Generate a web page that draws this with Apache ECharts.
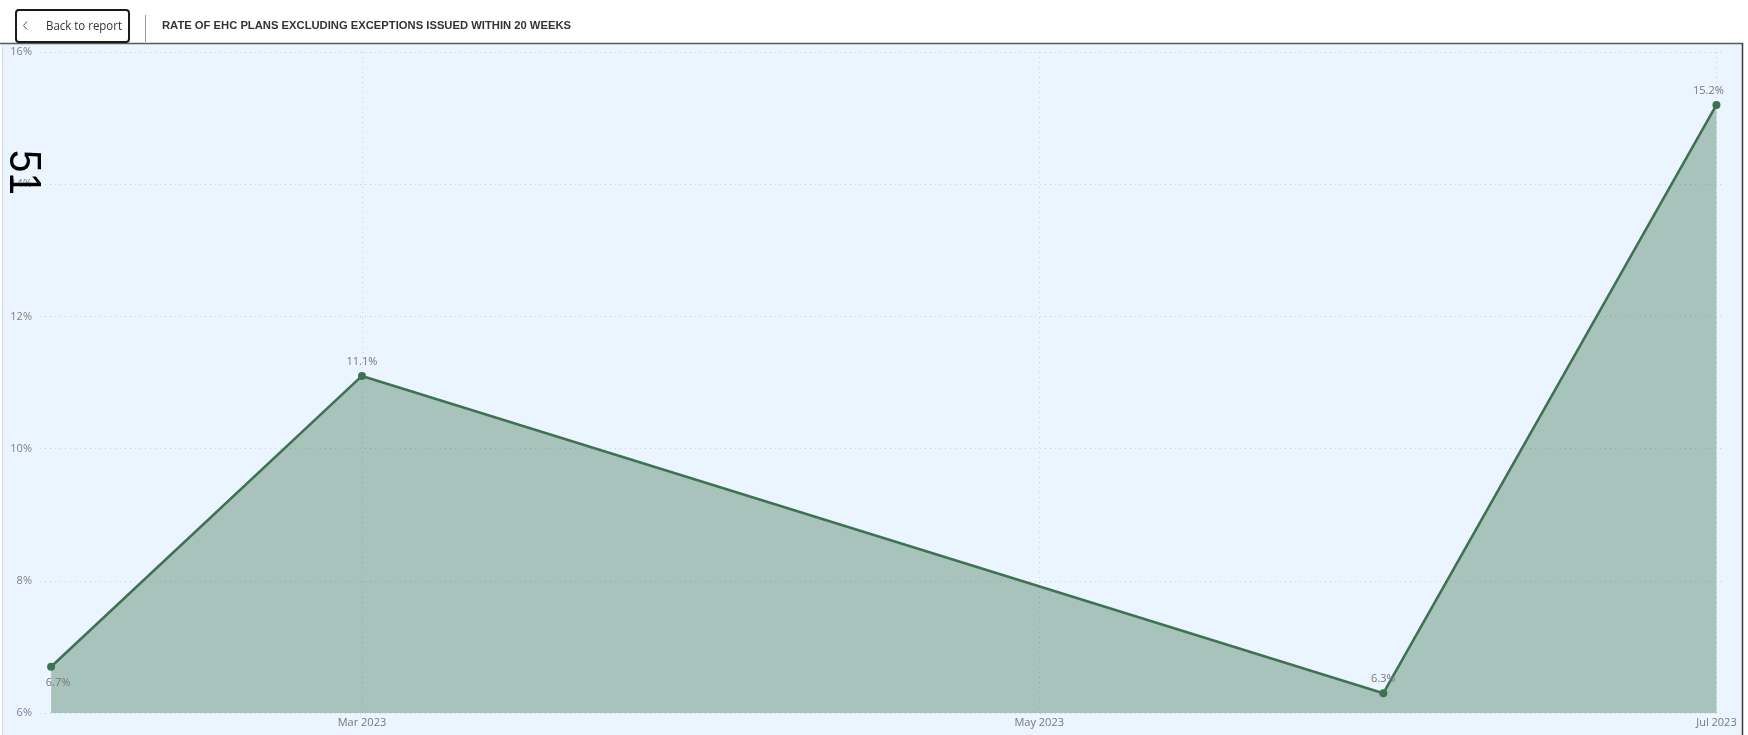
<!DOCTYPE html>
<html>
<head>
<meta charset="utf-8">
<script src="https://cdn.jsdelivr.net/npm/echarts@6/dist/echarts.min.js"></script>
<style>
html,body{margin:0;padding:0;background:#fff;}
#chart{width:1748px;height:735px;}
</style>
</head>
<body>
<div id="chart"></div>
<script>
// ---- data ----
const months = ['2023-02-01', '2023-03-01', '2023-06-01', '2023-07-01'];
const rates = [6.7, 11.1, 6.3, 15.2];
const xTickDates = ['2023-03-01', '2023-05-01', '2023-07-01'];
const yTicks = [6, 8, 10, 12, 14, 16];
const titleText = 'RATE OF EHC PLANS EXCLUDING EXCEPTIONS ISSUED WITHIN 20 WEEKS';
const backText = 'Back to report';
const bigText = '51';

const t = s => echarts.time.parse(s).getTime();
const DAY = 86400000;
const lineColor = '#3E7350';

// fit a text to a target width (horizontal scale factor)
const mctx = document.createElement('canvas').getContext('2d');
function fitScale(text, font, target) {
  mctx.font = font;
  const w = mctx.measureText(text).width;
  return w > 0 ? target / w : 1;
}
const titleFont = 'bold 10.5px "Liberation Sans", sans-serif';
const backFont = '12px "Open Sans", sans-serif';
const titleScale = fitScale(titleText, titleFont, 409);
const backScale = fitScale(backText, backFont, 76);

const chart = echarts.init(document.getElementById('chart'), null, {renderer: 'canvas'});

const seriesData = months.map((m, i) => {
  const last = i === months.length - 1;
  return {
    value: [t(m), rates[i]],
    label: {
      position: i === 0 ? 'bottom' : 'top',
      distance: i === 0 ? 7 : 5,
      offset: i === 0 ? [7, 0] : (last ? [-8, 0] : [0, 0])
    }
  };
});

const option = {
  animation: false,
  backgroundColor: '#ffffff',
  grid: {left: 40, right: 26, top: 52, bottom: 22, containLabel: false},
  graphic: [
    // panel background
    {type: 'rect', z: -10, silent: true, shape: {x: 2, y: 43, width: 1741, height: 692}, style: {fill: '#EBF5FF'}},
    {type: 'line', z: 50, silent: true, shape: {x1: 0, y1: 43.5, x2: 1743, y2: 43.5}, style: {stroke: '#5a5a5a', lineWidth: 1.5}},
    {type: 'line', z: 50, silent: true, shape: {x1: 1742.5, y1: 43, x2: 1742.5, y2: 735}, style: {stroke: '#3c3c3c', lineWidth: 1.5}},
    {type: 'line', z: 50, silent: true, shape: {x1: 2.5, y1: 44, x2: 2.5, y2: 735}, style: {stroke: '#cfd9e3', lineWidth: 1}},
    // back button
    {type: 'rect', z: 50, silent: true, shape: {x: 16, y: 10, width: 113, height: 32, r: 3}, style: {fill: '#fff', stroke: '#1a1a1a', lineWidth: 2}},
    {type: 'polyline', z: 51, silent: true, shape: {points: [[27, 21.5], [23.5, 25.5], [27, 29.5]]}, style: {stroke: '#555', lineWidth: 1, fill: null}},
    {type: 'text', z: 51, silent: true, x: 46, y: 26.5, scaleX: backScale,
      style: {text: backText, fill: '#333', font: backFont, textVerticalAlign: 'middle', textBaseline: 'middle'}},
    {type: 'line', z: 50, silent: true, shape: {x1: 145.5, y1: 15, x2: 145.5, y2: 42}, style: {stroke: '#9a9a9a', lineWidth: 1}},
    {type: 'text', z: 51, silent: true, x: 162, y: 26, scaleX: titleScale,
      style: {text: titleText, fill: '#333', font: titleFont, textVerticalAlign: 'middle', textBaseline: 'middle'}},
    // rotated big number
    {type: 'text', z: 60, silent: true, x: 44, y: 150, rotation: -Math.PI / 2, scaleX: 0.92, scaleY: 1,
      style: {text: bigText, fill: '#000', font: '44px "Liberation Sans", sans-serif', textBaseline: 'top', textAlign: 'left'}}
  ],
  xAxis: {
    type: 'time',
    min: t('2023-02-01') - DAY,
    max: t('2023-07-01') + DAY / 2,
    axisLine: {show: false},
    axisTick: {show: false, customValues: xTickDates.map(t)},
    axisLabel: {
      customValues: xTickDates.map(t),
      formatter: '{MMM} {yyyy}',
      color: '#777',
      fontSize: 11,
      fontFamily: '"Open Sans", sans-serif',
      margin: 4,
      hideOverlap: false,
      showMinLabel: true,
      showMaxLabel: true
    },
    splitLine: {show: true, lineStyle: {color: '#c9cfd6', type: [1, 4], width: 1}}
  },
  yAxis: {
    type: 'value',
    min: yTicks[0],
    max: yTicks[yTicks.length - 1],
    interval: 2,
    axisLine: {show: false},
    axisTick: {show: false},
    axisLabel: {
      formatter: '{value}%',
      color: '#808080',
      fontSize: 11,
      fontFamily: '"Open Sans", sans-serif',
      margin: 8
    },
    splitLine: {show: true, lineStyle: {color: '#c9cfd6', type: [1, 4], width: 1}}
  },
  series: [{
    type: 'line',
    data: seriesData,
    symbol: 'circle',
    symbolSize: 8,
    showSymbol: true,
    lineStyle: {color: lineColor, width: 2.6},
    itemStyle: {color: lineColor},
    areaStyle: {color: lineColor, opacity: 0.39},
    label: {
      show: true,
      formatter: p => p.value[1].toFixed(1) + '%',
      color: '#777',
      fontSize: 11,
      fontFamily: '"Open Sans", sans-serif'
    },
    emphasis: {disabled: true}
  }]
};
chart.setOption(option);
</script>
</body>
</html>
